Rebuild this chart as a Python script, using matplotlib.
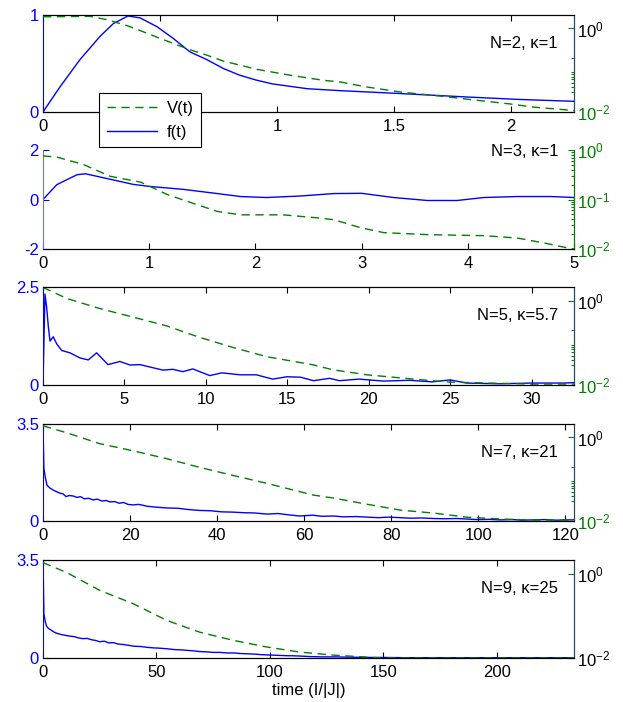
import matplotlib
matplotlib.use("Agg")
import matplotlib.pyplot as plt
from matplotlib.ticker import FixedLocator, NullFormatter

plt.rcParams["font.family"] = ["Liberation Sans", "DejaVu Sans"]
plt.rcParams["font.size"] = 12
plt.rcParams["mathtext.fontset"] = "custom"
plt.rcParams["mathtext.rm"] = "Liberation Sans"
plt.rcParams["mathtext.default"] = "regular"

F_COLOR = "#0000ff"
V_COLOR = "#008000"

# N=2, kappa=1
t1_f = [0, 0.073, 0.158, 0.244, 0.30, 0.363, 0.415, 0.487, 0.556, 0.628, 0.70, 0.77, 0.84, 0.91,
        0.98, 1.13, 1.27, 1.53, 1.81, 2.03, 2.27]
f1 = [0, 0.26, 0.54, 0.78, 0.91, 0.99, 0.97, 0.88, 0.76, 0.62, 0.54, 0.45, 0.38, 0.33, 0.29, 0.24,
      0.22, 0.19, 0.155, 0.13, 0.11]
t1_v = [0, 0.2, 0.274, 0.359, 0.415, 0.487, 0.556, 0.628, 0.70, 0.77, 0.915, 1.056, 1.197, 1.27,
        1.38, 1.53, 1.70, 1.84, 2.0, 2.09, 2.24, 2.27]
v1 = [1.9, 1.95, 1.62, 1.17, 0.89, 0.62, 0.44, 0.31, 0.23, 0.166, 0.105, 0.076, 0.0575, 0.0525,
      0.040, 0.030, 0.024, 0.0195, 0.0155, 0.0132, 0.0112, 0.0108]

# N=3, kappa=1
t2_f = [0, 0.13, 0.32, 0.40, 0.63, 0.85, 1.0, 1.32, 1.64, 1.86, 2.1, 2.42, 2.74, 3.0, 3.3, 3.62,
        3.9, 4.15, 4.47, 4.78, 5.0]
f2 = [0, 0.6, 1.0, 1.04, 0.82, 0.61, 0.53, 0.41, 0.24, 0.12, 0.08, 0.14, 0.24, 0.25, 0.08, -0.04,
      -0.04, 0.08, 0.12, 0.12, 0.08]
t2_v = [0, 0.13, 0.38, 0.63, 0.92, 1.17, 1.39, 1.64, 1.86, 2.26, 2.58, 2.74, 2.99, 3.21, 3.62, 4.15,
        4.47, 4.72, 4.94, 5.0]
v2 = [0.76, 0.72, 0.51, 0.295, 0.224, 0.126, 0.087, 0.0575, 0.049, 0.049, 0.0427, 0.039, 0.0269,
      0.0214, 0.0195, 0.0186, 0.0166, 0.0132, 0.0105, 0.0100]

# N=5, kappa=5.7
t3_f = [0, 0.12, 0.22, 0.33, 0.43, 0.63, 0.84, 1.15, 1.66, 2.27, 2.78, 3.29, 3.99, 4.72, 5.34, 5.95,
        7.36, 7.98, 8.59, 9.2, 10.24, 10.98, 12.1, 13.1, 14.1, 14.97, 15.8, 16.6, 17.6, 18.2, 19.4,
        20.9, 22.5, 23.9, 25, 26, 28, 30, 32, 32.6]
f3 = [0, 2.32, 2.0, 1.48, 1.12, 1.23, 1.05, 0.88, 0.82, 0.69, 0.64, 0.82, 0.52, 0.60, 0.51, 0.52,
      0.38, 0.40, 0.34, 0.41, 0.24, 0.31, 0.26, 0.26, 0.15, 0.21, 0.20, 0.11, 0.17, 0.11, 0.15,
      0.1, 0.12, 0.08, 0.13, 0.05, 0.03, 0.05, 0.05, 0.06]
t3_v = [0, 1.47, 3.5, 5.52, 7.6, 9.6, 11.66, 13.74, 16.56, 17.8, 19.9, 21.9, 23.9, 25.0, 27.0,
        30.06, 32.6]
v3 = [2.05, 1.12, 0.646, 0.407, 0.251, 0.135, 0.0776, 0.0468, 0.0302, 0.0229, 0.0174, 0.0148,
      0.0126, 0.0117, 0.0112, 0.0105, 0.0105]

# N=7, kappa=21
t4_f = [0, 0.2, 0.5, 0.9, 1.5, 2.3, 3.2, 4.0, 4.6, 5.3, 6.0, 7.0, 7.8, 8.6, 9.5, 10.5, 11.5, 12.5,
        13.5, 14.5, 15.4, 16.5, 17.5, 18.5, 19.5, 20.7, 22, 24, 26, 28.5, 31, 33, 36, 38.5, 41, 43.7,
        46, 48.5, 51.5, 54, 56.5, 59, 62, 64, 66.7, 69, 72, 74.5, 77, 79.5, 82, 84.5, 87, 89.7, 92,
        95, 97.5, 100, 102.5, 105, 108, 110, 112.6, 115, 118, 120.5, 122]
f4 = [3.47, 1.9, 1.6, 1.3, 1.2, 1.12, 1.05, 1.0, 0.98, 0.88, 0.92, 0.9, 0.85, 0.88, 0.8, 0.82, 0.76,
      0.79, 0.72, 0.74, 0.69, 0.7, 0.64, 0.67, 0.6, 0.58, 0.6, 0.53, 0.5, 0.47, 0.46, 0.42, 0.38,
      0.37, 0.33, 0.32, 0.3, 0.29, 0.25, 0.27, 0.22, 0.18, 0.21, 0.17, 0.18, 0.15, 0.16, 0.14, 0.12,
      0.14, 0.12, 0.1, 0.11, 0.09, 0.08, 0.09, 0.07, 0.05, 0.06, 0.04, 0.05, 0.03, 0.04, 0.05, 0.03,
      0.04, 0.04]
t4_v = [0, 5.5, 13.1, 20.7, 28.5, 36.1, 43.7, 51.5, 62.1, 66.7, 74.5, 82.1, 89.7, 97.5, 105.1,
        112.6, 122]
v4 = [1.9, 1.29, 0.708, 0.479, 0.309, 0.191, 0.123, 0.0794, 0.0417, 0.0355, 0.0251, 0.0182,
      0.0155, 0.0123, 0.0112, 0.0105, 0.0105]

# N=9, kappa=25
t5_f = [0, 0.4, 1.0, 1.6, 2.5, 3.5, 4.4, 5.5, 7, 8.5, 10.5, 12, 14, 15.5, 17.6, 19.5, 21.5, 23, 25,
        27, 29, 31, 33, 35.5, 38, 40, 43, 46, 49, 51.5, 54.6, 58, 61, 64, 67, 69, 72, 75, 78, 81, 84,
        87, 90, 93, 96, 98.7, 102, 105, 108, 110, 113, 118, 123, 128, 135, 142, 150, 160, 175, 190,
        205, 220, 234]
f5 = [3.5, 1.57, 1.3, 1.13, 1.05, 1.0, 0.95, 0.9, 0.86, 0.83, 0.8, 0.78, 0.76, 0.72, 0.69, 0.7,
      0.65, 0.63, 0.58, 0.6, 0.54, 0.55, 0.5, 0.48, 0.45, 0.42, 0.41, 0.38, 0.36, 0.35, 0.33, 0.3,
      0.29, 0.27, 0.25, 0.23, 0.22, 0.2, 0.2, 0.18, 0.18, 0.16, 0.15, 0.14, 0.12, 0.11, 0.1, 0.09,
      0.08, 0.08, 0.07, 0.05, 0.04, 0.04, 0.03, 0.02, 0.02, 0.01, 0.01, 0.01, 0.01, 0.01, 0.01]
t5_v = [0, 10.6, 25.1, 39.6, 54.6, 69.2, 83.7, 98.7, 113.2, 127.8, 142.7, 149.8, 234]
v5 = [1.82, 1.05, 0.398, 0.195, 0.0776, 0.0407, 0.0263, 0.0182, 0.0138, 0.0117, 0.0105, 0.0100,
      0.0100]

labels = ["N=2, \u03ba=1", "N=3, \u03ba=1", "N=5, \u03ba=5.7", "N=7, \u03ba=21", "N=9, \u03ba=25"]
x_limits = [2.27, 5, 32.6, 122, 234]
x_ticks = [[0, 0.5, 1, 1.5, 2], [0, 1, 2, 3, 4, 5], [0, 5, 10, 15, 20, 25, 30],
           [0, 20, 40, 60, 80, 100, 120], [0, 50, 100, 150, 200]]
f_limits = [(0, 1), (-2, 2), (0, 2.5), (0, 3.5), (0, 3.5)]
f_ticks = [[0, 1], [-2, 0, 2], [0, 2.5], [0, 3.5], [0, 3.5]]

series = [(t1_f, f1, t1_v, v1), (t2_f, f2, t2_v, v2), (t3_f, f3, t3_v, v3),
          (t4_f, f4, t4_v, v4), (t5_f, f5, t5_v, v5)]

# panel top/bottom rows in pixels
rows = [(15, 112), (150, 249), (287, 385), (424, 521), (560, 658)]
W, H = 623, 702

fig = plt.figure(figsize=(W / 100, H / 100), dpi=100)

lines = None
for i, (tf, f, tv, v) in enumerate(series):
    top, bot = rows[i]
    ax = fig.add_axes([43 / W, 1 - bot / H, 531 / W, (bot - top) / H])
    ax2 = ax.twinx()
    boxed = i != 1

    lf, = ax.plot(tf, f, color=F_COLOR, lw=1.0)
    lv, = ax2.plot(tv, v, color=V_COLOR, lw=1.0, ls=(0, (6, 4)))
    if lines is None:
        lines = (lv, lf)

    ax.set_xlim(0, x_limits[i])
    ax.set_xticks(x_ticks[i])
    # the 0.5 label of the first panel sits under the legend
    ax.set_xticklabels(["" if (i == 0 and x == 0.5) else f"{x:g}" for x in x_ticks[i]])
    ax.set_ylim(*f_limits[i])
    ax.set_yticks(f_ticks[i])
    ax.set_yticklabels([f"{y:g}" for y in f_ticks[i]])
    ax.tick_params(axis="x", direction="in", length=4, width=0.8, top=boxed, pad=5,
                   labelsize=12)
    ax.tick_params(axis="y", direction="in", length=4, width=0.8, colors=F_COLOR, pad=3,
                   labelsize=12)

    ax2.set_yscale("log")
    if boxed:
        ax2.set_ylim(0.01, 2.1)
        ax2.set_yticks([0.01, 1])
        ax2.set_yticklabels(["$10^{-2}$", "$10^{0}$"])
        if i != 4:
            ax2.yaxis.set_minor_locator(FixedLocator([0.03, 0.04, 0.05, 0.06, 0.07, 0.08,
                                                      0.09, 0.2]))
        else:
            ax2.yaxis.set_minor_locator(FixedLocator([]))
        tick_colors = ["black", "black"] if i == 4 else [V_COLOR, "black"]
        for lab, c in zip(ax2.get_yticklabels(), tick_colors):
            lab.set_color(c)
        ax2.spines["right"].set_color("#1f4e6e")
        ax.spines["left"].set_color(F_COLOR if i == 0 else "#10108a")
        ax2.spines["left"].set_visible(False)
    else:
        ax2.set_ylim(0.01, 1)
        ax2.set_yticks([0.01, 0.1, 1])
        ax2.set_yticklabels(["$10^{-2}$", "$10^{-1}$", "$10^{0}$"])
        for lab in ax2.get_yticklabels():
            lab.set_color(V_COLOR)
        ax2.spines["right"].set_color(V_COLOR)
        ax.spines["left"].set_color("#7070ff")
        ax2.spines["left"].set_visible(False)
        ax.spines["top"].set_visible(False)
        ax2.spines["top"].set_visible(False)
    ax2.yaxis.set_minor_formatter(NullFormatter())
    ax2.tick_params(axis="y", which="major", direction="in", length=4, width=0.8,
                    color=V_COLOR, pad=2, labelsize=12)
    ax2.tick_params(axis="y", which="minor", direction="in", length=2.5, width=0.8,
                    color=V_COLOR)

    for sp in ax.spines.values():
        sp.set_linewidth(0.8)
    for sp in ax2.spines.values():
        sp.set_linewidth(0.8)

    label_y = 0.71 if boxed else 0.98
    ax2.text(0.97, label_y, labels[i], transform=ax.transAxes, ha="right", va="center",
             fontsize=12)

    if i == 4:
        ax.set_xlabel("time (I/|J|)", fontsize=12, labelpad=2)

leg = fig.legend(lines, ["V(t)", "f(t)"], loc="upper left",
                 bbox_to_anchor=(99 / W, 1 - 93 / H), borderaxespad=0, fancybox=False,
                 framealpha=1, edgecolor="black", handlelength=3, fontsize=12,
                 borderpad=0.45, labelspacing=0.55, handletextpad=0.6)
leg.get_frame().set_linewidth(0.8)

fig.savefig("out.png", dpi=100)
